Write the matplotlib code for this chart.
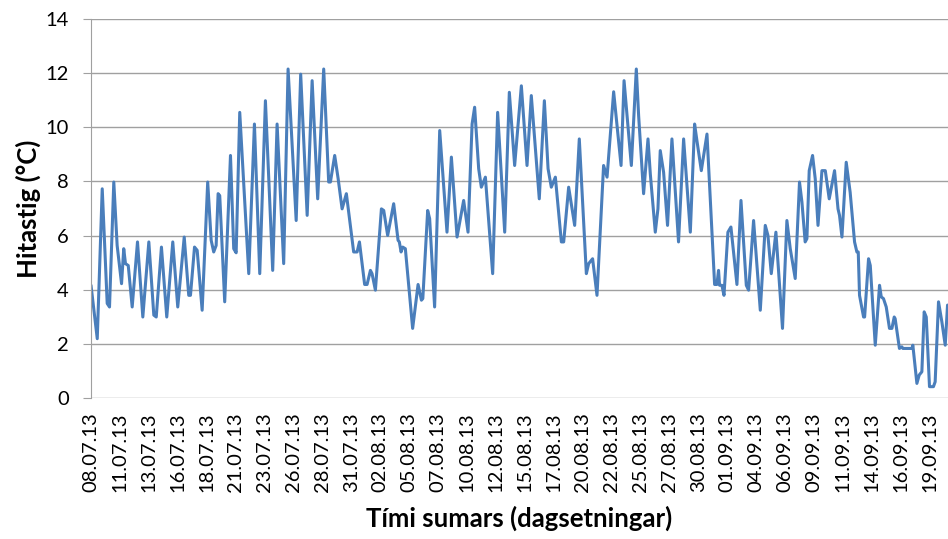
import datetime as dt
import matplotlib
matplotlib.use("Agg")
import matplotlib.pyplot as plt

# Days after 08.07.13 12:00 and temperature (°C)
days = [0.00, 0.54, 0.97, 1.40, 1.60, 1.97, 2.26, 2.64, 2.83, 2.98, 3.22, 3.56,
        4.02, 4.48, 5.00, 5.43, 5.64, 6.09, 6.55, 7.07, 7.50, 8.06, 8.45, 8.60,
        8.95, 9.18, 9.61, 10.09, 10.39, 10.61, 10.82, 10.99, 11.13, 11.56, 12.06,
        12.34, 12.55, 12.86, 13.64, 14.13, 14.59, 15.08, 15.71, 16.09, 16.66,
        17.04, 17.74, 18.13, 18.69, 19.12, 19.60, 20.12, 20.55, 20.70, 21.07,
        21.37, 21.71, 22.08, 22.71, 23.01, 23.21, 23.66, 23.87, 24.16, 24.30,
        24.59, 25.11, 25.31, 25.65, 26.17, 26.55, 26.66, 26.81, 26.95, 27.18,
        27.81, 28.28, 28.57, 28.69, 29.11, 29.28, 29.71, 30.15, 30.78, 31.16,
        31.65, 32.22, 32.60, 32.95, 33.17, 33.52, 33.75, 34.10, 34.73, 35.16,
        35.77, 36.17, 36.63, 37.21, 37.70, 38.07, 38.76, 39.20, 39.52, 39.80,
        40.15, 40.67, 40.87, 41.30, 41.82, 42.22, 42.83, 43.03, 43.37, 43.75,
        44.32, 44.62, 45.19, 45.83, 46.09, 46.72, 47.15, 47.35, 47.78, 48.16,
        48.36, 48.79, 49.02, 49.22, 49.51, 49.85, 50.23, 50.80, 51.24, 51.82,
        52.19, 52.39, 52.77, 53.26, 53.92, 54.12, 54.26, 54.35, 54.55, 54.73,
        55.07, 55.33, 55.85, 56.20, 56.66, 56.86, 57.29, 57.87, 58.30, 58.53,
        58.82, 59.22, 59.79, 60.17, 60.46, 60.89, 61.26, 61.47, 61.75, 61.90,
        62.10, 62.39, 62.62, 62.86, 63.20, 63.49, 63.83, 64.29, 64.59, 64.72,
        64.93, 65.30, 65.64, 66.02, 66.22, 66.34, 66.45, 66.80, 66.89, 67.23,
        67.38, 67.81, 68.18, 68.33, 68.52, 68.76, 69.04, 69.25, 69.45, 69.53,
        69.90, 70.11, 70.20, 70.98, 71.06, 71.41, 71.61, 71.84, 72.04, 72.22,
        72.50, 72.84, 72.99, 73.28, 73.57, 73.86, 74.06]
temps = [4.17, 2.2, 7.73, 3.5, 3.37, 7.98, 5.64, 4.23, 5.52, 4.97, 4.9, 3.37,
         5.77, 3.0, 5.77, 3.07, 3.0, 5.58, 3.0, 5.77, 3.37, 5.95, 3.8, 3.8,
         5.58, 5.46, 3.25, 7.98, 5.83, 5.4, 5.64, 7.55, 7.48, 3.56, 8.96,
         5.52, 5.37, 10.55, 4.6, 10.12, 4.6, 10.98, 4.72, 10.12, 4.97,
         12.15, 6.56, 11.96, 6.75, 11.72, 7.36, 12.15, 7.98, 7.98, 8.96,
         8.1, 6.99, 7.55, 5.4, 5.4, 5.77, 4.2, 4.2, 4.72, 4.6,
         3.99, 6.99, 6.93, 6.01, 7.18, 5.83, 5.77, 5.4, 5.58, 5.52,
         2.58, 4.2, 3.62, 3.68, 6.93, 6.63, 3.37, 9.88, 6.13, 8.9,
         5.95, 7.3, 6.13, 10.12, 10.74, 8.47, 7.79, 8.16, 4.6, 10.55,
         6.13, 11.29, 8.59, 11.53, 8.59, 11.17, 7.36, 10.98, 8.47, 7.79,
         8.16, 5.77, 5.77, 7.79, 6.38, 9.57, 4.6, 4.97, 5.15, 3.8,
         8.59, 8.16, 11.31, 8.59, 11.72, 8.59, 12.15, 10.43, 7.55, 9.57,
         8.28, 6.13, 6.99, 9.14, 8.34, 6.38, 9.57, 5.77, 9.57, 6.13,
         10.12, 9.51, 8.4, 9.75, 4.2, 4.2, 4.72, 4.17, 4.17, 3.8,
         6.13, 6.32, 4.2, 7.3, 4.17, 3.99, 6.56, 3.25, 6.38, 6.01,
         4.6, 6.13, 2.58, 6.56, 5.52, 4.42, 7.98, 7.24, 5.77, 5.89,
         8.4, 8.96, 8.1, 6.38, 8.4, 8.4, 7.36, 8.4, 6.99, 6.75,
         5.95, 8.71, 7.6, 5.77, 5.4, 5.4, 3.8, 3.0, 3.0, 5.15,
         4.9, 1.96, 4.17, 3.74, 3.68, 3.37, 2.58, 2.58, 3.0, 2.94,
         1.84, 1.9, 1.84, 1.84, 1.96, 0.55, 0.86, 0.98, 3.19, 3.0,
         0.43, 0.43, 0.61, 3.56, 2.82, 1.96, 3.44]

start = dt.datetime(2013, 7, 8, 12)
tick_days = [i * 2.5 for i in range(30)]
tick_labels = [(start + dt.timedelta(days=d)).strftime("%d.%m.%y") for d in tick_days]

plt.rcParams["font.family"] = ["Lato", "DejaVu Sans"]

fig = plt.figure(figsize=(9.48, 5.39), dpi=100)
ax = fig.add_axes([0.096, 0.261, 0.904, 0.704])

ax.plot(days, temps, color="#4A7EBB", linewidth=2.2,
        solid_joinstyle="round", solid_capstyle="round")

ax.set_xlim(0, 74.1)
ax.set_ylim(0, 14)
ax.set_yticks(range(0, 15, 2))
ax.set_xticks(tick_days)
ax.set_xticklabels(tick_labels, rotation=90, fontsize=14.5)
ax.tick_params(axis="y", labelsize=14.5, length=6, color="#A0A0A0", pad=10)
ax.tick_params(axis="x", length=0, pad=10)

ax.grid(axis="y", color="#A0A0A0", linewidth=1)
ax.set_axisbelow(True)
for side in ["top", "right", "bottom"]:
    ax.spines[side].set_visible(False)
ax.spines["left"].set_color("#A0A0A0")

ax.set_ylabel("Hitastig (°C)", fontsize=18.5, fontweight="bold", labelpad=3)
ax.set_xlabel("Tími sumars (dagsetningar)", fontsize=18.5, fontweight="bold", labelpad=10)

fig.savefig("out.png", dpi=100)
